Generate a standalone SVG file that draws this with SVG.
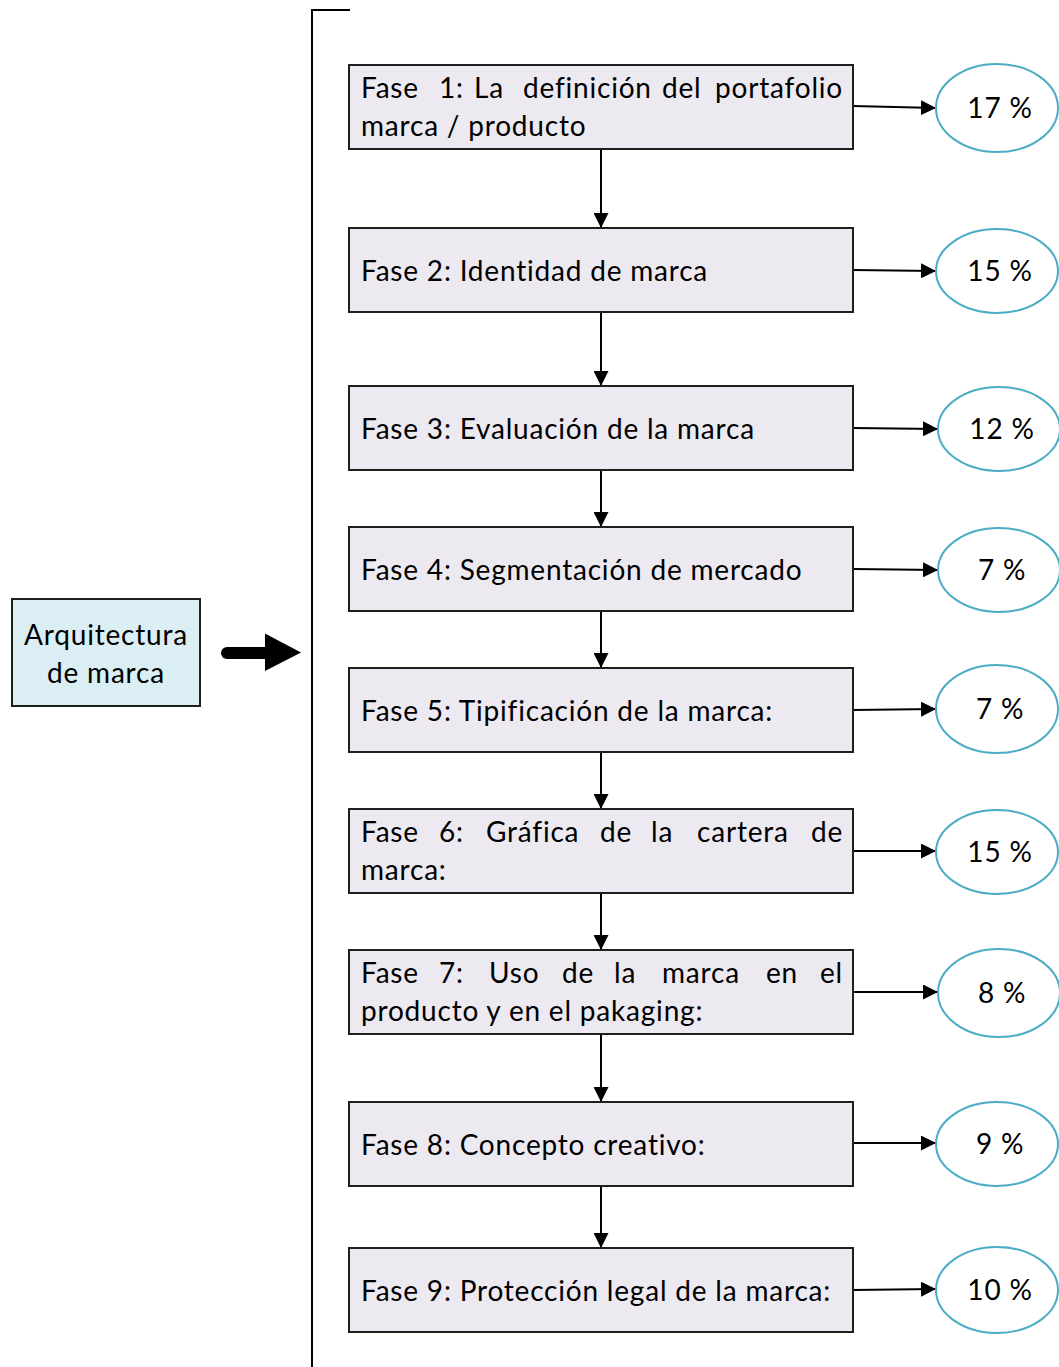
<svg xmlns="http://www.w3.org/2000/svg" width="1059" height="1367" viewBox="0 0 1059 1367">
  <style>
    .phase rect { fill: #ECE9F1; stroke: #1F1F1F; stroke-width: 2; }
    .phase text, .pct text, #arquitectura text { font-family: Lato, "Open Sans", sans-serif; font-size: 28px; letter-spacing: 0.8px; font-variant-ligatures: none; fill: #000; }
    .pct ellipse { fill: #FFFFFF; stroke: #4BACC6; stroke-width: 2; }
    .pct text { text-anchor: middle; }
    #connectors line { stroke: #000; stroke-width: 2; marker-end: url(#head); }
  </style>
  <defs>
    <marker id="head" viewBox="0 0 10 10" refX="10" refY="5" markerWidth="15" markerHeight="15" markerUnits="userSpaceOnUse" orient="auto">
      <path d="M0,0 L10,5 L0,10 Z" fill="#000"/>
    </marker>
  </defs>
  <rect width="1059" height="1367" fill="#FFFFFF"/>

  <!-- bracket grouping the phases -->
  <path d="M350,10 H312 V1367" fill="none" stroke="#000" stroke-width="2"/>

  <!-- source node -->
  <g id="arquitectura">
    <rect x="12" y="599" width="188" height="107" fill="#DAEEF3" stroke="#1F1F1F" stroke-width="2"/>
    <text x="106" y="645" text-anchor="middle">Arquitectura</text>
    <text x="106" y="683" text-anchor="middle">de marca</text>
  </g>

  <!-- bold arrow into the bracket -->
  <g id="big-arrow">
    <line x1="227" y1="653" x2="268" y2="653" stroke="#000" stroke-width="12" stroke-linecap="round"/>
    <path d="M265,633.5 L301,652.5 L265,671 Z" fill="#000"/>
  </g>

  <g id="connectors">
    <line x1="601" y1="149" x2="601" y2="228"/>
    <line x1="601" y1="312" x2="601" y2="386"/>
    <line x1="601" y1="470" x2="601" y2="527"/>
    <line x1="601" y1="611" x2="601" y2="668"/>
    <line x1="601" y1="752" x2="601" y2="809"/>
    <line x1="601" y1="893" x2="601" y2="950"/>
    <line x1="601" y1="1034" x2="601" y2="1102"/>
    <line x1="601" y1="1186" x2="601" y2="1248"/>
    <line x1="853" y1="106" x2="936" y2="108"/>
    <line x1="853" y1="270" x2="936" y2="271"/>
    <line x1="853" y1="428" x2="938" y2="429"/>
    <line x1="853" y1="569" x2="938" y2="570"/>
    <line x1="853" y1="710" x2="936" y2="709"/>
    <line x1="853" y1="851" x2="936" y2="851"/>
    <line x1="853" y1="992" x2="938" y2="992"/>
    <line x1="853" y1="1143" x2="936" y2="1143"/>
    <line x1="853" y1="1290" x2="936" y2="1289"/>
  </g>

  <g id="fase1" class="phase">
    <rect x="349" y="65" width="504" height="84"/>
    <text y="98"><tspan x="361">Fase</tspan><tspan x="439">1:</tspan><tspan x="474">La</tspan><tspan x="523">definición</tspan><tspan x="662">del</tspan><tspan x="843" text-anchor="end">portafolio</tspan></text>
    <text x="361" y="136">marca / producto</text>
  </g>
  <g id="fase2" class="phase">
    <rect x="349" y="228" width="504" height="84"/>
    <text x="361" y="281">Fase 2: Identidad de marca</text>
  </g>
  <g id="fase3" class="phase">
    <rect x="349" y="386" width="504" height="84"/>
    <text x="361" y="439">Fase 3: Evaluación de la marca</text>
  </g>
  <g id="fase4" class="phase">
    <rect x="349" y="527" width="504" height="84"/>
    <text x="361" y="580">Fase 4: Segmentación de mercado</text>
  </g>
  <g id="fase5" class="phase">
    <rect x="349" y="668" width="504" height="84"/>
    <text x="361" y="721">Fase 5: Tipificación de la marca:</text>
  </g>
  <g id="fase6" class="phase">
    <rect x="349" y="809" width="504" height="84"/>
    <text y="842"><tspan x="361">Fase</tspan><tspan x="439">6:</tspan><tspan x="486">Gráfica</tspan><tspan x="600">de</tspan><tspan x="651">la</tspan><tspan x="697">cartera</tspan><tspan x="843" text-anchor="end">de</tspan></text>
    <text x="361" y="880">marca:</text>
  </g>
  <g id="fase7" class="phase">
    <rect x="349" y="950" width="504" height="84"/>
    <text y="983"><tspan x="361">Fase</tspan><tspan x="439">7:</tspan><tspan x="489">Uso</tspan><tspan x="562">de</tspan><tspan x="614">la</tspan><tspan x="662">marca</tspan><tspan x="766">en</tspan><tspan x="843" text-anchor="end">el</tspan></text>
    <text x="361" y="1021">producto y en el pakaging:</text>
  </g>
  <g id="fase8" class="phase">
    <rect x="349" y="1102" width="504" height="84"/>
    <text x="361" y="1155">Fase 8: Concepto creativo:</text>
  </g>
  <g id="fase9" class="phase">
    <rect x="349" y="1248" width="504" height="84"/>
    <text x="361" y="1301">Fase 9: Protección legal de la marca:</text>
  </g>

  <g id="pct1" class="pct"><ellipse cx="997" cy="108" rx="61" ry="44"/><text x="1000" y="118">17 %</text></g>
  <g id="pct2" class="pct"><ellipse cx="997" cy="271" rx="61" ry="42"/><text x="1000" y="281">15 %</text></g>
  <g id="pct3" class="pct"><ellipse cx="999" cy="429" rx="61" ry="42"/><text x="1002" y="439">12 %</text></g>
  <g id="pct4" class="pct"><ellipse cx="999" cy="570" rx="61" ry="42"/><text x="1002" y="580">7 %</text></g>
  <g id="pct5" class="pct"><ellipse cx="997" cy="709" rx="61" ry="44"/><text x="1000" y="719">7 %</text></g>
  <g id="pct6" class="pct"><ellipse cx="997" cy="852" rx="61" ry="42"/><text x="1000" y="862">15 %</text></g>
  <g id="pct7" class="pct"><ellipse cx="999" cy="993" rx="61" ry="44"/><text x="1002" y="1003">8 %</text></g>
  <g id="pct8" class="pct"><ellipse cx="997" cy="1144" rx="61" ry="42"/><text x="1000" y="1154">9 %</text></g>
  <g id="pct9" class="pct"><ellipse cx="997" cy="1290" rx="61" ry="43"/><text x="1000" y="1300">10 %</text></g>
</svg>
